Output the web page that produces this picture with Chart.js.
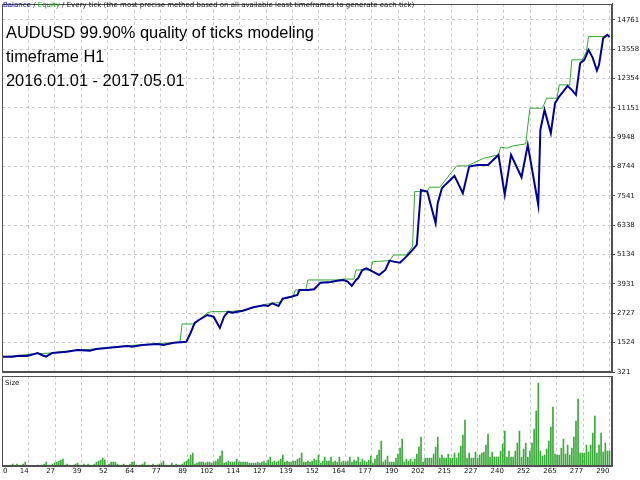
<!DOCTYPE html>
<html>
<head>
<meta charset="utf-8">
<script src="https://cdn.jsdelivr.net/npm/chart.js@4"></script>
<style>
  body { margin: 0; background: #fff; }
  #wrap { position: relative; width: 640px; height: 480px; overflow: hidden; background: #fff; }
  #main { position: absolute; left: 0; top: 0; }
  #size { position: absolute; left: 0; top: 374px; }
  .txt { position: absolute; font-family: "Liberation Sans", Arial, sans-serif; white-space: nowrap; }
  #head { left: 3px; top: 1px; font-family: "DejaVu Sans", sans-serif; font-size: 7px; color: #111; }
  #info { left: 6px; top: 20px; font-size: 16.4px; line-height: 24px; color: #000; }
  #sizeLbl { left: 5px; top: 379px; font-family: "DejaVu Sans", sans-serif; font-size: 7px; color: #111; }
</style>
</head>
<body>
<div id="wrap">
  <canvas id="main" width="640" height="376"></canvas>
  <canvas id="size" width="640" height="106"></canvas>
  <div class="txt" id="head"><span style="color:#0000c0">Balance</span> / <span style="color:#009c00">Equity</span> / Every tick (the most precise method based on all available least timeframes to generate each tick)</div>
  <div class="txt" id="info">AUDUSD 99.90% quality of ticks modeling<br>timeframe H1<br>2016.01.01 - 2017.05.01</div>
  <div class="txt" id="sizeLbl">Size</div>
</div>
<script>
// Tick labels
const xLabels = ['0','14','27','39','52','64','77','89','102','114','127','139','152','164','177','190','202','215','227','240','252','265','277','290'];
const yTicks = [321, 1524, 2727, 3931, 5134, 6338, 7541, 8744, 9948, 11151, 12354, 13558, 14761];

// Balance curve (thick blue): trade number and value
const balanceTrade = [0,5,8,12,17,19,21,24,31,36,42,45,50,55,60,62,67,74,77,82,88,90,92,94,98,101,104,106,108,110,115,120,125,127,129,132,134,138,141,142,146,149,152,157,160,163,165,167,169,170,172,174,177,180,183,185,187,190,193,196,198,200,203,207,208,210,212,216,220,223,227,232,237,240,243,248,251,256,257,259,262,264,266,270,272,274,276,278,280,282,284,285,287,289,290];
const balanceValue = [949,949,990,977,1100,1018,949,1100,1154,1223,1195,1264,1305,1347,1388,1359,1429,1470,1429,1523,1564,1921,2331,2454,2659,2589,2126,2589,2795,2754,2836,2975,3057,3028,3139,3028,3328,3410,3480,3685,3685,3713,3984,4013,4066,4095,4025,3849,4095,4165,4505,4575,4435,4300,4505,4887,4846,4805,5051,5325,5530,7787,7717,6421,7241,7857,8033,8361,7651,8743,8812,8812,9222,7582,9222,8308,9633,7171,10248,11068,10112,11343,11614,12053,11889,11684,12984,13120,13531,13202,12680,12914,14010,14145,14050];

// Equity curve (thin green)
const equityTrade = [0,8,14,24,31,36,45,50,55,60,67,74,82,85,86,92,94,98,100,108,115,120,124,126,129,133,134,139,140,145,146,160,163,168,169,176,177,185,187,193,196,197,203,204,209,217,222,230,237,238,241,244,250,252,258,260,265,266,271,272,277,279,280,287,289,290];
const equityValue = [949,990,1060,1100,1180,1223,1264,1320,1360,1400,1440,1480,1523,1564,2290,2290,2454,2741,2795,2795,2850,2975,3057,3100,3139,3180,3328,3410,3685,3685,4095,4095,4130,4130,4505,4505,4846,4887,5120,5120,5461,7717,7717,7898,7898,8771,8771,9087,9222,9539,9497,9592,9674,11138,11138,11548,11548,12094,12094,13120,13120,13460,14075,14075,14145,14050];

// Position size per trade (hundredths of a lot)
const sizes = [
  0,0,0,0,1,2,0,2,0,1,2,4,1,0,0,0,0,1,0,1,2,4,1,0,2,3,4,5,6,7,1,2,1,0,1,2,3,1,1,2,1,2,1,0,2,4,5,6,8,6,1,2,4,4,4,2,1,1,2,1,0,2,4,4,1,0,1,2,4,1,1,0,2,0,1,2,
  3,5,1,1,1,3,1,2,1,1,2,4,5,7,11,13,2,3,4,4,4,3,4,4,3,4,5,7,10,15,3,4,5,4,4,4,7,4,4,4,4,4,3,3,3,3,4,3,4,5,3,6,9,4,5,4,5,7,11,4,5,4,4,5,5,7,8,13,4,4,5,4,5,7,6,11,
  3,5,9,5,5,9,4,5,4,9,4,5,4,5,9,4,6,5,9,4,7,5,4,6,10,3,7,11,16,25,4,6,10,4,4,4,8,12,18,27,4,7,5,7,4,7,12,19,29,4,8,8,8,8,12,19,29,8,11,8,8,12,8,8,13,8,13,20,31,46,8,13,8,8,14,8,11,
  13,14,21,32,9,14,9,9,9,15,22,35,9,15,9,9,15,23,35,9,17,23,9,15,23,37,55,83,15,10,11,17,25,39,59,12,11,11,18,27,12,21,11,18,29,45,67,13,13,13,21,14,21,33,50,13,21,33,14,23,15,15
];

const xMax = 291.2;
const gridStep = 290 / 23;
const tickPos = xLabels.map((l, k) => k === 0 ? 2.5 : k * gridStep);

const gridGray = '#c8c8c8';
const frameGray = '#505050';
const tickFont = { family: 'DejaVu Sans', size: 7, lineHeight: 0.5 };

// Draws the box around a plot area
const frame = {
  id: 'frame',
  afterDraw(chart) {
    const a = chart.chartArea, c = chart.ctx;
    c.save();
    c.strokeStyle = frameGray;
    c.lineWidth = 1;
    c.strokeRect(Math.round(a.left) + 0.5, Math.round(a.top) + 0.5, Math.round(a.right - a.left) - 1, Math.round(a.bottom - a.top) - 1);
    c.restore();
  }
};

const xGrid = { color: ctx => ctx.index === 0 ? 'rgba(0,0,0,0)' : gridGray, drawTicks: false, offset: false };

new Chart(document.getElementById('main'), {
  type: 'line',
  data: {
    datasets: [{
      label: 'Balance',
      data: balanceTrade.map((t, i) => ({ x: t, y: balanceValue[i] })),
      borderColor: '#000096',
      borderWidth: 2,
      pointRadius: 0,
      order: 0
    }, {
      label: 'Equity',
      data: equityTrade.map((t, i) => ({ x: t, y: equityValue[i] })),
      borderColor: '#2ea82e',
      borderWidth: 1,
      pointRadius: 0,
      order: 1
    }]
  },
  options: {
    responsive: false,
    animation: false,
    layout: { padding: { left: 2, top: 0, right: 0, bottom: 0 } },
    plugins: { legend: { display: false }, tooltip: { enabled: false } },
    scales: {
      x: {
        type: 'linear', min: 0, max: xMax,
        afterBuildTicks: s => { s.ticks = tickPos.map(v => ({ value: v })); },
        afterFit: s => { s.height = 4; },
        ticks: { display: false },
        grid: xGrid,
        border: { color: frameGray, dash: [3, 3] }
      },
      y: {
        position: 'right', min: 321, max: 15420,
        afterBuildTicks: s => { s.ticks = yTicks.map(v => ({ value: v })); },
        afterFit: s => { s.width = 28; },
        ticks: { font: tickFont, color: '#111', padding: 2, callback: v => String(v) },
        grid: { color: gridGray, tickLength: 3, tickColor: frameGray },
        border: { color: frameGray, dash: [3, 3] }
      }
    }
  },
  plugins: [frame]
});

new Chart(document.getElementById('size'), {
  type: 'bar',
  data: {
    datasets: [{
      label: 'Size',
      data: sizes.map((v, i) => ({ x: i, y: v })),
      backgroundColor: '#3aaa3a',
      barThickness: 1
    }]
  },
  options: {
    responsive: false,
    animation: false,
    layout: { padding: { left: 2, top: 2, right: 0, bottom: 0 } },
    plugins: { legend: { display: false }, tooltip: { enabled: false } },
    scales: {
      x: {
        type: 'linear', min: 0, max: xMax, offset: false,
        afterBuildTicks: s => { s.ticks = tickPos.map(v => ({ value: v })); },
        afterFit: s => { s.height = 14; },
        ticks: { font: tickFont, color: '#111', padding: 3, align: 'end', autoSkip: false, maxRotation: 0, callback: (v, i) => xLabels[i] },
        grid: xGrid,
        border: { color: frameGray, dash: [3, 3] }
      },
      y: {
        position: 'right', min: 0, max: 90,
        afterFit: s => { s.width = 28; },
        ticks: { display: false },
        grid: { display: false },
        border: { color: frameGray }
      }
    }
  },
  plugins: [frame]
});
</script>
</body>
</html>
